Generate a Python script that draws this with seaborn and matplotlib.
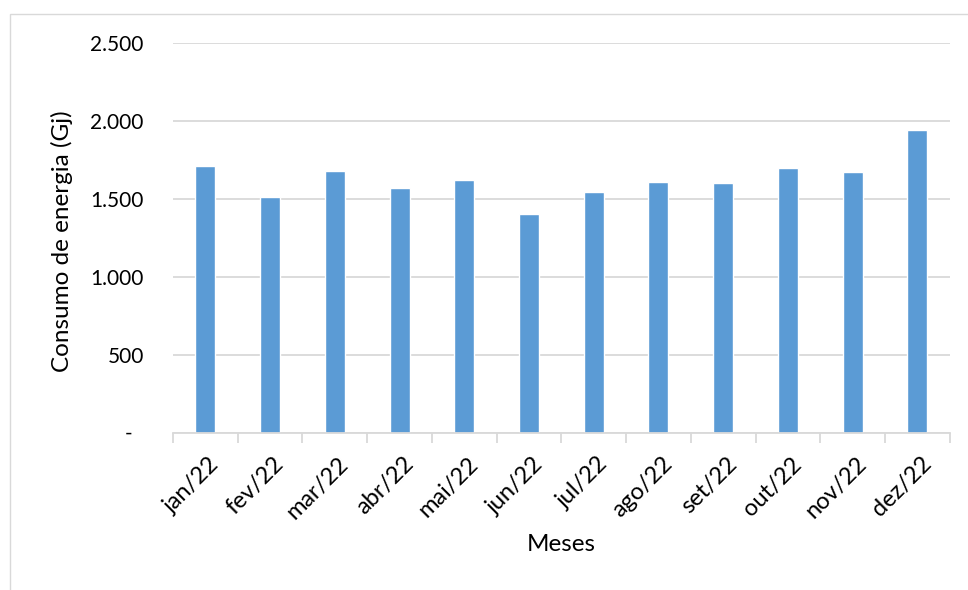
import matplotlib
matplotlib.use("Agg")
import matplotlib.pyplot as plt
import matplotlib.transforms as mtransforms
import seaborn as sns
import pandas as pd
import numpy as np
from matplotlib.patches import Rectangle

months = ["jan/22", "fev/22", "mar/22", "abr/22", "mai/22", "jun/22",
          "jul/22", "ago/22", "set/22", "out/22", "nov/22", "dez/22"]
consumo = [1707, 1511, 1677, 1566, 1620, 1402, 1543, 1605, 1598, 1697, 1671, 1940]
y_ticks = [0, 500, 1000, 1500, 2000, 2500]
y_tick_labels = ["-  ", "500", "1.000", "1.500", "2.000", "2.500"]

sns.set_theme(style="white")
plt.rcParams["font.family"] = ["Lato", "DejaVu Sans"]

df = pd.DataFrame({"Mes": months, "Consumo": consumo})

fig = plt.figure(figsize=(9.68, 5.90), dpi=100)
ax = fig.add_axes([173 / 968, 1 - 432.5 / 590, (949.7 - 173) / 968, (432.5 - 42.7) / 590])

sns.barplot(data=df, x="Mes", y="Consumo", color="#5B9BD5", width=0.31,
            saturation=1, ax=ax, zorder=3)

ax.set_ylim(0, 2500)
ax.set_xlim(-0.5, len(months) - 0.5)
ax.set_yticks(y_ticks)
ax.set_yticklabels(y_tick_labels, fontsize=15, color="#000000")
ax.yaxis.grid(True, color="#D9D9D9", linewidth=1.3, zorder=0)
ax.xaxis.grid(False)
ax.tick_params(axis="y", length=0, pad=21)

ax.set_xticks(np.arange(len(months)))
ax.set_xticklabels(months, rotation=45, ha="right", va="top",
                   rotation_mode="anchor", fontsize=17, color="#000000")
ax.tick_params(axis="x", which="major", length=0, pad=15)
shift = mtransforms.ScaledTranslation(3 / 100, 0, fig.dpi_scale_trans)
for lbl in ax.get_xticklabels():
    lbl.set_transform(lbl.get_transform() + shift)
ax.set_xticks(np.arange(-0.5, len(months)), minor=True)
ax.tick_params(axis="x", which="minor", length=7, width=1.3, color="#D9D9D9",
               direction="out", bottom=True)

for s in ["top", "right", "left"]:
    ax.spines[s].set_visible(False)
ax.spines["bottom"].set_color("#D9D9D9")
ax.spines["bottom"].set_linewidth(1.3)
ax.spines["bottom"].set_zorder(4)

ax.set_ylabel("Consumo de energia (Gj)", fontsize=17.5, color="#000000")
ax.set_xlabel("Meses", fontsize=17.5, color="#000000")
ax.yaxis.set_label_coords(-(173 - 73) / (949.7 - 173), 0.5 - 4 / 389.8)
ax.xaxis.set_label_coords(0.5, -(534 - 432.5) / (432.5 - 42.7))

border = Rectangle((9.5 / 968, -0.1), 1.2, 1 - 13.5 / 590 + 0.1,
                   transform=fig.transFigure, fill=False,
                   edgecolor="#D9D9D9", linewidth=1.0, clip_on=False)
fig.add_artist(border)

fig.savefig("out.png", dpi=100)
